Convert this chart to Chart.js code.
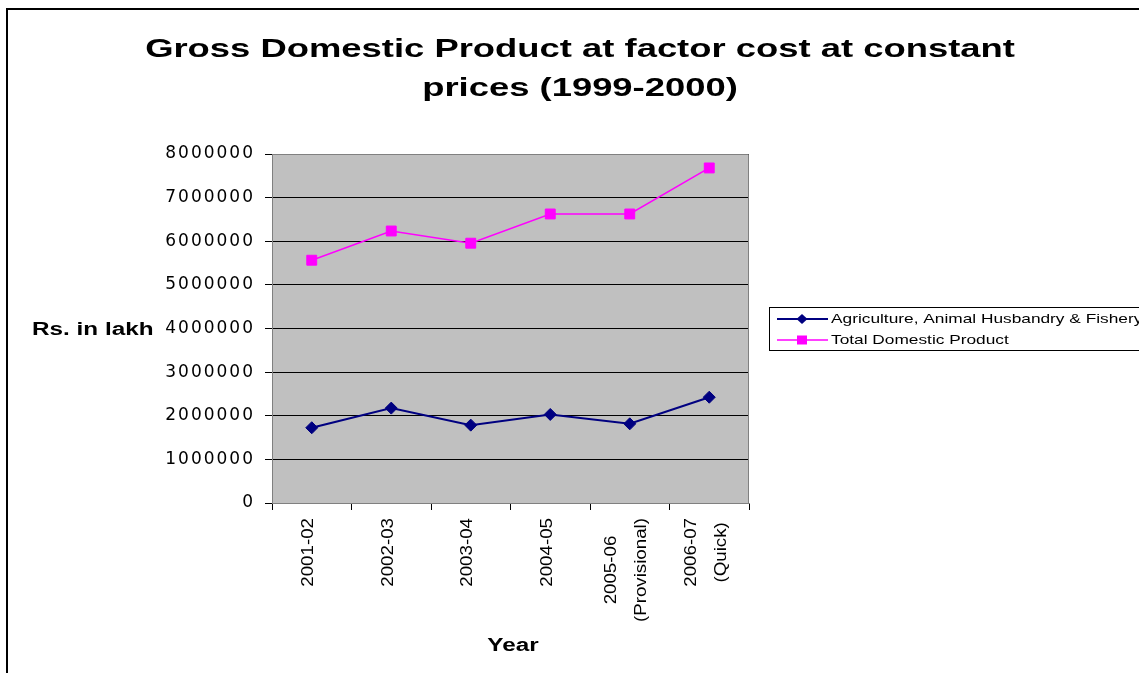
<!DOCTYPE html>
<html><head><meta charset="utf-8">
<script src="https://cdn.jsdelivr.net/npm/chart.js@4/dist/chart.umd.min.js"></script>
<style>html,body{margin:0;padding:0;background:#fff;overflow:hidden;} canvas{display:block;}</style>
</head><body>
<canvas id="c" width="1139" height="673" style="width:1139px;height:673px"></canvas>
<script>
const titleLines = ['Gross Domestic Product at factor cost at constant', 'prices (1999-2000)'];
const yAxisTitle = 'Rs. in lakh';
const xAxisTitle = 'Year';
const categories = [['2001-02'], ['2002-03'], ['2003-04'], ['2004-05'], ['2005-06', '(Provisional)'], ['2006-07', '(Quick)']];
const seriesNames = ['Agriculture, Animal Husbandry & Fishery', 'Total Domestic Product'];
const agriculture = [1725000, 2175000, 1785000, 2030000, 1815000, 2425000];
const totalProduct = [5565000, 6235000, 5955000, 6625000, 6625000, 7680000];
const yTicks = [0, 1000000, 2000000, 3000000, 4000000, 5000000, 6000000, 7000000, 8000000];

function stretchedText(ctx, text, x, y, sx, align, baseline, font, rot) {
  ctx.save();
  ctx.letterSpacing = '0px';
  ctx.translate(x, y);
  if (rot) ctx.rotate(rot);
  ctx.scale(sx, 1);
  ctx.font = font;
  ctx.textAlign = align;
  ctx.textBaseline = baseline;
  ctx.fillStyle = '#000';
  ctx.fillText(text, 0, 0);
  ctx.restore();
}

const decor = {
  id: 'decor',
  beforeDraw(chart) {
    const {ctx, chartArea: a} = chart;
    ctx.save();
    ctx.fillStyle = '#fff';
    ctx.fillRect(0, 0, chart.width, chart.height);
    ctx.fillStyle = '#C0C0C0';
    ctx.fillRect(a.left, a.top, a.right - a.left, a.bottom - a.top);
    ctx.restore();
    ctx.letterSpacing = '2px';
  },
  beforeDatasetsDraw(chart) {
    const {ctx, chartArea: a} = chart;
    ctx.save();
    ctx.strokeStyle = '#808080';
    ctx.lineWidth = 1;
    ctx.beginPath();
    ctx.moveTo(a.left, a.top + 0.5);
    ctx.lineTo(a.right - 0.5, a.top + 0.5);
    ctx.lineTo(a.right - 0.5, a.bottom);
    ctx.stroke();
    ctx.restore();
  },
  afterDatasetsDraw(chart) {
    chart.ctx.letterSpacing = '0px';
  },
  afterDraw(chart) {
    const ctx = chart.ctx;
    ctx.save();
    ctx.letterSpacing = '0px';
    ctx.strokeStyle = '#000';
    ctx.lineWidth = 2;
    ctx.strokeRect(7, 9, 1200, 700);
    ctx.restore();

    const tf = 'bold 26px "Liberation Sans", Arial, sans-serif';
    stretchedText(ctx, titleLines[0], 580, 56.5, 1.4, 'center', 'alphabetic', tf);
    stretchedText(ctx, titleLines[1], 580, 95.5, 1.4, 'center', 'alphabetic', tf);

    const af = 'bold 18px "Liberation Sans", Arial, sans-serif';
    stretchedText(ctx, yAxisTitle, 32, 335, 1.35, 'left', 'alphabetic', af);
    stretchedText(ctx, xAxisTitle, 513, 651, 1.35, 'center', 'alphabetic', af);

    const xs = chart.scales.x;
    const lf = '16px "Liberation Sans", Arial, sans-serif';
    const sxl = 1.17;
    ctx.save();
    ctx.font = lf;
    ctx.letterSpacing = '0px';
    categories.forEach((lines, i) => {
      const px = xs.getPixelForTick(i);
      const widths = lines.map(l => ctx.measureText(l).width * sxl);
      const maxW = Math.max(...widths);
      const along = 518 + maxW / 2;
      const n = lines.length;
      lines.forEach((l, k) => {
        const xk = px - 3 + (k - (n - 1) / 2) * 30;
        stretchedText(ctx, l, xk, along, sxl, 'center', 'middle', lf, -Math.PI / 2);
      });
    });
    ctx.restore();

    ctx.save();
    ctx.letterSpacing = '0px';
    ctx.strokeStyle = '#000';
    ctx.lineWidth = 1;
    ctx.strokeRect(769.5, 307.5, 420, 43);
    const rows = [319, 340];
    chart.data.datasets.forEach((ds, i) => {
      const y = rows[i];
      ctx.strokeStyle = ds.borderColor;
      ctx.lineWidth = ds.borderWidth;
      ctx.beginPath();
      ctx.moveTo(777, y);
      ctx.lineTo(828, y);
      ctx.stroke();
      ctx.fillStyle = ds.backgroundColor;
      ctx.beginPath();
      if (ds.pointStyle === 'rectRot') {
        ctx.moveTo(802 - 5.5, y); ctx.lineTo(802, y - 5); ctx.lineTo(802 + 5.5, y); ctx.lineTo(802, y + 5);
        ctx.closePath();
      } else {
        ctx.rect(802 - 5, y - 4.5, 10, 9);
      }
      ctx.fill();
      stretchedText(ctx, ds.label, 831, y + 0.5, 1.33, 'left', 'middle', '13px "Liberation Sans", Arial, sans-serif');
    });
    ctx.restore();
  }
};

new Chart(document.getElementById('c').getContext('2d'), {
  type: 'line',
  data: {
    labels: categories,
    datasets: [
      {
        label: seriesNames[0], data: agriculture,
        borderColor: '#000080', backgroundColor: '#000080',
        borderWidth: 2, pointStyle: 'rectRot', pointRadius: 6, pointHoverRadius: 6,
        pointBorderColor: '#000080', pointBackgroundColor: '#000080', pointBorderWidth: 1,
        tension: 0, fill: false
      },
      {
        label: seriesNames[1], data: totalProduct,
        borderColor: '#FF00FF', backgroundColor: '#FF00FF',
        borderWidth: 1.5, pointStyle: 'rect', pointRadius: 7, pointHoverRadius: 7,
        pointBorderColor: '#FF00FF', pointBackgroundColor: '#FF00FF', pointBorderWidth: 1,
        tension: 0, fill: false
      }
    ]
  },
  options: {
    responsive: false,
    animation: false,
    devicePixelRatio: 1,
    events: [],
    layout: {padding: {top: 154, right: 390, bottom: 0, left: 0}},
    plugins: {legend: {display: false}, title: {display: false}, tooltip: {enabled: false}},
    scales: {
      x: {
        type: 'category',
        offset: true,
        grid: {offset: true, drawOnChartArea: false, drawTicks: true, tickLength: 7, color: '#000', lineWidth: 1},
        border: {display: true, color: '#808080', width: 1},
        ticks: {display: false},
        afterFit(s) { s.height = 170; }
      },
      y: {
        min: 0, max: 8000000,
        afterBuildTicks(s) { s.ticks = yTicks.map(v => ({value: v})); },
        grid: {color: '#000', lineWidth: 1, drawTicks: true, tickLength: 7},
        border: {display: true, color: '#808080', width: 1},
        ticks: {
          font: {family: 'DejaVu Sans', size: 17},
          color: '#000', padding: 10,
          callback: v => String(v)
        },
        afterFit(s) { s.width = 272; }
      }
    }
  },
  plugins: [decor]
});
</script>
</body></html>
